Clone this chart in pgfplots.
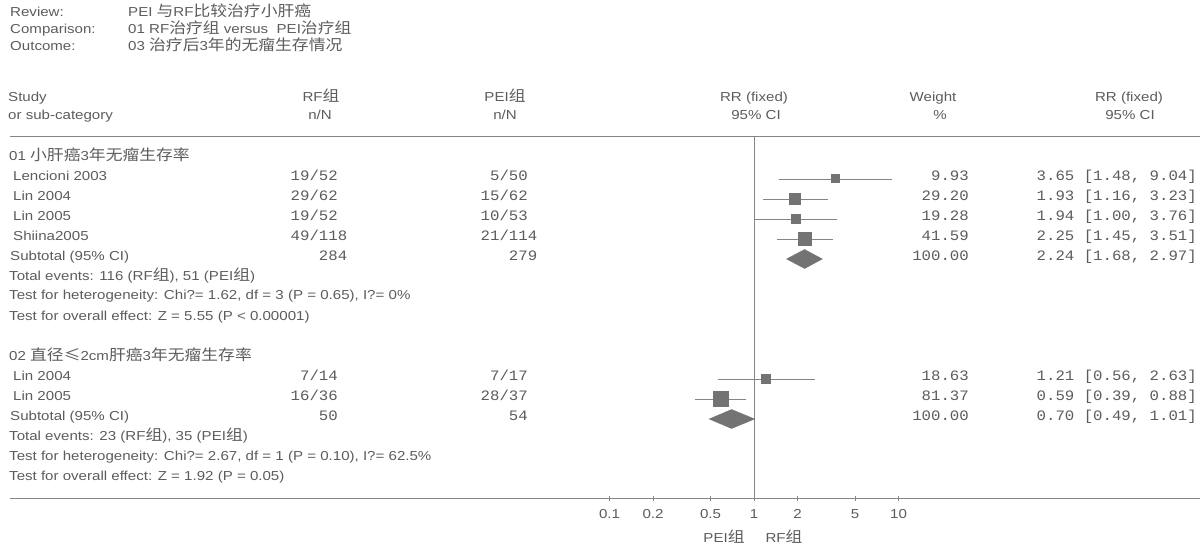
\documentclass[border=0pt]{standalone}
\usepackage{pgfplots}
\pgfplotsset{compat=1.18}
\usepackage{fontspec}
\setmainfont{Liberation Sans}[FakeStretch=1.16]
\newfontfamily\cjkfont{Noto Sans CJK SC}[FakeStretch=1.12]
\newfontfamily\monofont{Liberation Mono}[FakeStretch=1.09]
\newcommand{\zh}[1]{{\cjkfont\fontsize{15}{15}\selectfont #1}}
\definecolor{txt}{gray}{0.36}
\definecolor{ln}{gray}{0.52}
\definecolor{mk}{gray}{0.45}
\tikzset{
  t/.style={inner sep=0pt, text=txt, font=\fontsize{13}{13}\selectfont},
  m/.style={inner sep=0pt, text=txt, font=\monofont\fontsize{14.4}{14.4}\selectfont},
}
\begin{document}
\begin{tikzpicture}[x=1pt,y=1pt]
\path[use as bounding box] (0pt,0pt) rectangle (1200pt,-548pt);
\begin{axis}[
  at={(10pt,-498.5pt)}, anchor=south west,
  scale only axis, width=1190pt, height=362.5pt,
  xmode=log, xmin=7.10e-6, xmax=1220,
  ymin=-498.5, ymax=-136,
  axis x line=bottom, axis y line=none,
  axis line style={-, draw=ln, line width=0.8pt},
  xtick={0.1,0.2,0.5,1,2,5,10},
  xticklabels={0.1,0.2,0.5,1,2,5,10},
  minor xtick={},
  tick align=center, major tick length=5pt,
  every tick/.style={draw=ln, line width=0.7pt},
  xticklabel style={font=\fontsize{13}{13}\selectfont, text=txt, inner sep=0pt, anchor=mid, yshift=-14.5pt},
  clip=false,
]
% line of no effect
\addplot[ln, line width=0.8pt] coordinates {(1,-136) (1,-498.5)};
% confidence intervals
\addplot[ln, line width=0.8pt] coordinates {(1.48,-179) (9.04,-179)};
\addplot[ln, line width=0.8pt] coordinates {(1.16,-199) (3.23,-199)};
\addplot[ln, line width=0.8pt] coordinates {(1.00,-219) (3.76,-219)};
\addplot[ln, line width=0.8pt] coordinates {(1.45,-239) (3.51,-239)};
\addplot[ln, line width=0.8pt] coordinates {(0.56,-379) (2.63,-379)};
\addplot[ln, line width=0.8pt] coordinates {(0.39,-399) (0.88,-399)};
% point estimates (square size ~ weight)
\addplot[only marks, mark=square*, mark size=4pt, mark options={fill=mk, draw=mk, line width=0pt}] coordinates {(3.65,-179)};
\addplot[only marks, mark=square*, mark size=5.5pt, mark options={fill=mk, draw=mk, line width=0pt}] coordinates {(1.93,-199)};
\addplot[only marks, mark=square*, mark size=4.5pt, mark options={fill=mk, draw=mk, line width=0pt}] coordinates {(1.94,-219)};
\addplot[only marks, mark=square*, mark size=6.5pt, mark options={fill=mk, draw=mk, line width=0pt}] coordinates {(2.25,-239)};
\addplot[only marks, mark=square*, mark size=4.5pt, mark options={fill=mk, draw=mk, line width=0pt}] coordinates {(1.21,-379)};
\addplot[only marks, mark=square*, mark size=7.5pt, mark options={fill=mk, draw=mk, line width=0pt}] coordinates {(0.59,-399)};
% subtotal diamonds
\addplot[fill=mk, draw=mk] coordinates {(1.68,-259) (2.24,-249.5) (2.97,-259) (2.24,-268.5)} -- cycle;
\addplot[fill=mk, draw=mk] coordinates {(0.49,-419) (0.70,-409.5) (1.01,-419) (0.70,-428.5)} -- cycle;
\end{axis}

% header
\node[t, anchor=mid west] at (10,-14) {Review:};
\node[t, anchor=mid west] at (128,-14) {PEI \zh{与}RF\zh{比较治疗小肝癌}};
\node[t, anchor=mid west] at (10,-31) {Comparison:};
\node[t, anchor=mid west] at (128,-31) {01 RF\zh{治疗组} versus \ PEI\zh{治疗组}};
\node[t, anchor=mid west] at (10,-48) {Outcome:};
\node[t, anchor=mid west] at (128,-48) {03 \zh{治疗后}3\zh{年的无瘤生存情况}};

% column headers
\node[t, anchor=mid west] at (8,-99) {Study};
\node[t, anchor=mid west] at (8,-117) {or sub-category};
\node[t, anchor=mid] at (321,-99) {RF\zh{组}};
\node[t, anchor=mid] at (320,-117) {n/N};
\node[t, anchor=mid] at (505,-99) {PEI\zh{组}};
\node[t, anchor=mid] at (505,-117) {n/N};
\node[t, anchor=mid] at (754,-99) {RR (fixed)};
\node[t, anchor=mid] at (756,-117) {95\% CI};
\node[t, anchor=mid] at (933,-99) {Weight};
\node[t, anchor=mid] at (940,-117) {\%};
\node[t, anchor=mid] at (1129,-99) {RR (fixed)};
\node[t, anchor=mid] at (1130,-117) {95\% CI};
\draw[ln, line width=0.8pt] (10,-136) -- (1200,-136);

% group 1
\node[t, anchor=mid west] at (9,-158) {01 \zh{小肝癌}3\zh{年无瘤生存率}};
\node[t, anchor=mid west] at (13,-178) {Lencioni 2003};
\node[t, anchor=mid west] at (13,-198) {Lin 2004};
\node[t, anchor=mid west] at (13,-218) {Lin 2005};
\node[t, anchor=mid west] at (13,-238) {Shiina2005};
\node[t, anchor=mid west] at (10,-258) {Subtotal (95\% CI)};
\node[t, anchor=mid west] at (9,-278) {Total events: 116 (RF\zh{组}), 51 (PEI\zh{组})};
\node[t, anchor=mid west] at (9,-297) {Test for heterogeneity: Chi?= 1.62, df = 3 (P = 0.65), I?= 0\%};
\node[t, anchor=mid west] at (9,-318) {Test for overall effect: Z = 5.55 (P < 0.00001)};

\node[m, anchor=mid east] at (338,-178) {19/52};
\node[m, anchor=mid east] at (338,-198) {29/62};
\node[m, anchor=mid east] at (338,-218) {19/52};
\node[m, anchor=mid east] at (347.4,-238) {49/118};
\node[m, anchor=mid east] at (347.4,-258) {284};
\node[m, anchor=mid east] at (528,-178) {5/50};
\node[m, anchor=mid east] at (528,-198) {15/62};
\node[m, anchor=mid east] at (528,-218) {10/53};
\node[m, anchor=mid east] at (537.4,-238) {21/114};
\node[m, anchor=mid east] at (537.4,-258) {279};

\node[m, anchor=mid east] at (969,-178) {9.93};
\node[m, anchor=mid east] at (969,-198) {29.20};
\node[m, anchor=mid east] at (969,-218) {19.28};
\node[m, anchor=mid east] at (969,-238) {41.59};
\node[m, anchor=mid east] at (969,-258) {100.00};
\node[m, anchor=mid east] at (1197,-178) {3.65 [1.48, 9.04]};
\node[m, anchor=mid east] at (1197,-198) {1.93 [1.16, 3.23]};
\node[m, anchor=mid east] at (1197,-218) {1.94 [1.00, 3.76]};
\node[m, anchor=mid east] at (1197,-238) {2.25 [1.45, 3.51]};
\node[m, anchor=mid east] at (1197,-258) {2.24 [1.68, 2.97]};

% group 2
\node[t, anchor=mid west] at (9,-358) {02 \zh{直径≤}2cm\zh{肝癌}3\zh{年无瘤生存率}};
\node[t, anchor=mid west] at (13,-378) {Lin 2004};
\node[t, anchor=mid west] at (13,-398) {Lin 2005};
\node[t, anchor=mid west] at (10,-418) {Subtotal (95\% CI)};
\node[t, anchor=mid west] at (9,-438) {Total events: 23 (RF\zh{组}), 35 (PEI\zh{组})};
\node[t, anchor=mid west] at (9,-458) {Test for heterogeneity: Chi?= 2.67, df = 1 (P = 0.10), I?= 62.5\%};
\node[t, anchor=mid west] at (9,-478) {Test for overall effect: Z = 1.92 (P = 0.05)};

\node[m, anchor=mid east] at (338,-378) {7/14};
\node[m, anchor=mid east] at (338,-398) {16/36};
\node[m, anchor=mid east] at (338,-418) {50};
\node[m, anchor=mid east] at (528,-378) {7/17};
\node[m, anchor=mid east] at (528,-398) {28/37};
\node[m, anchor=mid east] at (528,-418) {54};

\node[m, anchor=mid east] at (969,-378) {18.63};
\node[m, anchor=mid east] at (969,-398) {81.37};
\node[m, anchor=mid east] at (969,-418) {100.00};
\node[m, anchor=mid east] at (1197,-378) {1.21 [0.56, 2.63]};
\node[m, anchor=mid east] at (1197,-398) {0.59 [0.39, 0.88]};
\node[m, anchor=mid east] at (1197,-418) {0.70 [0.49, 1.01]};

% axis captions
\node[t, anchor=mid] at (724,-540) {PEI\zh{组}};
\node[t, anchor=mid] at (784,-540) {RF\zh{组}};
\end{tikzpicture}
\end{document}
